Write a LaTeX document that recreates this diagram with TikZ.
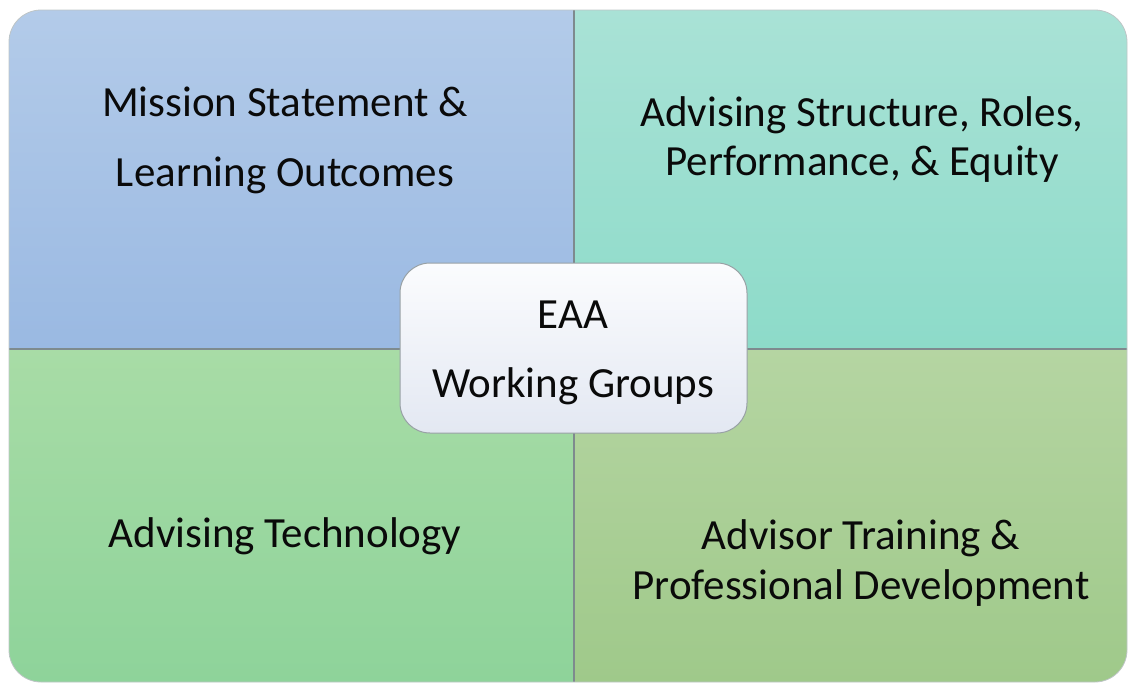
\documentclass[tikz,border=0pt]{standalone}
\usepackage{fontspec}
\setmainfont{Carlito}
\definecolor{tlTop}{HTML}{B3CBE9}
\definecolor{tlBot}{HTML}{9AB9E2}
\definecolor{trTop}{HTML}{A9E2D6}
\definecolor{trBot}{HTML}{8DDBC9}
\definecolor{blTop}{HTML}{A8DCA6}
\definecolor{blBot}{HTML}{8ED39A}
\definecolor{brTop}{HTML}{B5D5A2}
\definecolor{brBot}{HTML}{9FC98A}
\definecolor{hubTop}{HTML}{FBFCFE}
\definecolor{hubBot}{HTML}{E3E8F2}
\definecolor{edge}{HTML}{7E8A8E}
\definecolor{ink}{HTML}{0A0A0A}
\tikzset{
  lbl/.style={anchor=base, inner sep=0pt, text=ink, font=\fontsize{43}{50}\selectfont},
  hubbox/.style={draw=edge!80, line width=1pt, rounded corners=30pt, top color=hubTop, bottom color=hubBot, minimum width=347pt, minimum height=170pt, inner sep=0pt},
  divider/.style={draw=edge, line width=1.2pt}
}
\begin{document}
\begin{tikzpicture}[x=1pt,y=-1pt]
\useasboundingbox (0,0) rectangle (1128,683);
\begin{scope}
\clip[rounded corners=32pt] (9,10) rectangle (1127,682);
\shade[top color=tlTop, bottom color=tlBot] (9,10) rectangle (574,349);
\shade[top color=trTop, bottom color=trBot] (574,10) rectangle (1127,349);
\shade[top color=blTop, bottom color=blBot] (9,349) rectangle (574,682);
\shade[top color=brTop, bottom color=brBot] (574,349) rectangle (1127,682);
\end{scope}
\coordinate (vt) at (574,10);
\coordinate (vb) at (574,682);
\coordinate (hl) at (9,349);
\coordinate (hr) at (1127,349);
\draw[divider] (vt) -- (vb);
\draw[divider] (hl) -- (hr);
\draw[draw=edge!50, line width=0.8pt, rounded corners=32pt] (9,10) rectangle (1127,682);

\node[lbl] (tl1) at (285,116) {Mission Statement \&};
\node[lbl] (tl2) at (285,186) {Learning Outcomes};
\node[lbl] (tr1) at (862,126) {Advising Structure, Roles,};
\node[lbl] (tr2) at (862,175) {Performance, \& Equity};
\node[lbl] (bl1) at (285,547) {Advising Technology};
\node[lbl] (br1) at (861,549) {Advisor Training \&};
\node[lbl] (br2) at (861,599) {Professional Development};

\node[hubbox] (hub) at (573.5,348) {};
\node[lbl] (hub1) at (573,328) {EAA};
\node[lbl] (hub2) at (573,397) {Working Groups};
\end{tikzpicture}
\end{document}
